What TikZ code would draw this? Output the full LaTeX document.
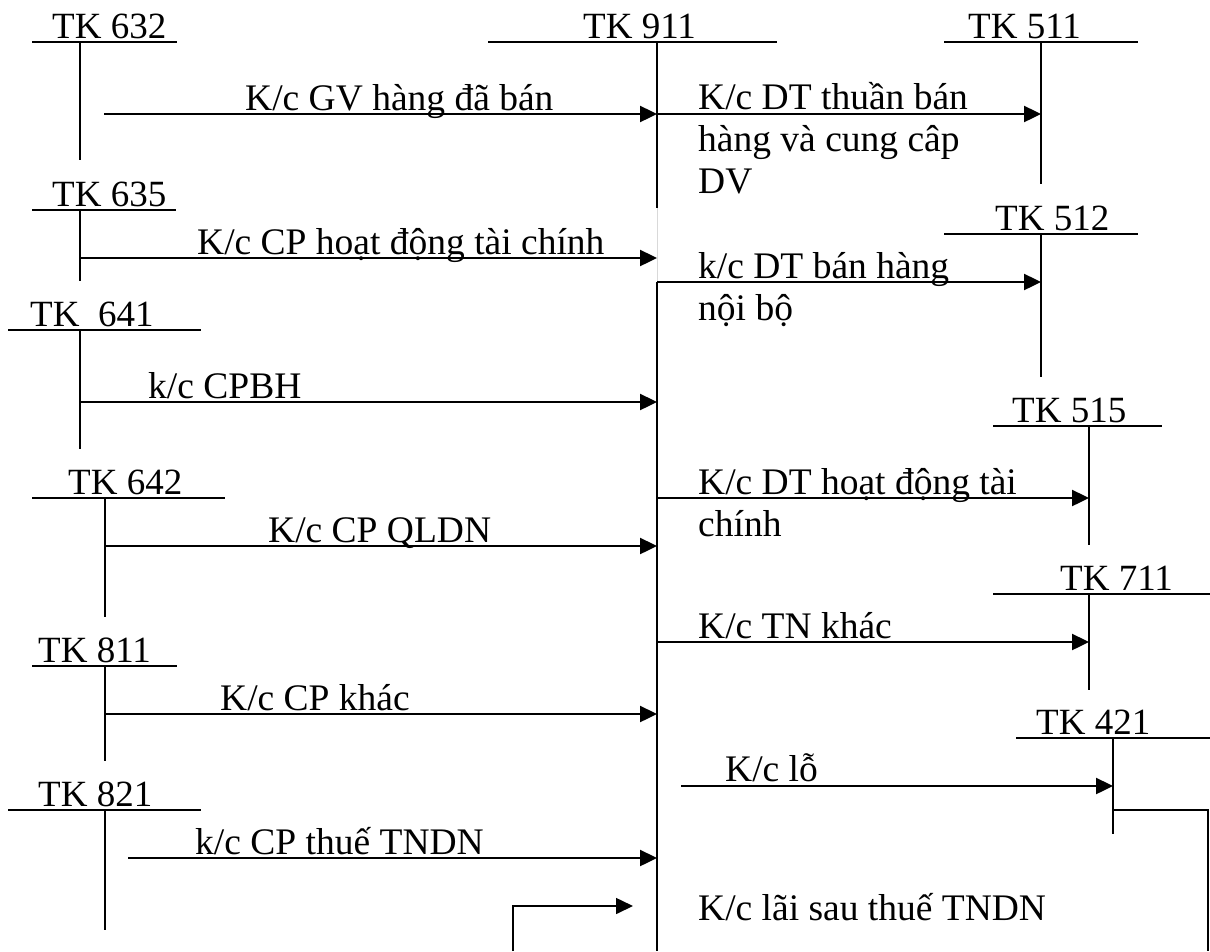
\documentclass[tikz,border=0pt]{standalone}
\usepackage{fontspec}
\setmainfont{Liberation Serif}
\usetikzlibrary{arrows.meta, positioning, calc}

\begin{document}
\begin{tikzpicture}[x=1pt, y=-1pt,
    acct/.style={anchor=base west, inner sep=0pt, font=\fontsize{37}{42}\selectfont},
    lbl/.style={anchor=base west, inner sep=0pt, align=left, font=\fontsize{37.5}{42}\selectfont},
    tline/.style={line width=1.6pt},
    flow/.style={-{Triangle[length=17pt, width=16pt]}, line width=2.4pt},
    back/.style={-{Triangle[length=17pt, width=16pt]}, line width=1.6pt}
]
\useasboundingbox (0,0) rectangle (1210,951);

% TK 911 (centre)
\node[acct] (tk911) at (583,38) {TK 911};
\draw[tline] (488,42) -- (777,42);
\draw[tline] (657,42) coordinate (s911) -- (657,208);
\draw[line width=0.6pt, black!15] (657,208) -- (657,282);
\draw[tline] (657,282) -- (657,951);

% left side accounts
\node[acct] (tk632) at (52,38) {TK 632};
\draw[tline] (32,42) -- (177,42);
\draw[tline] (80,42) -- (80,160);
\node[acct] (tk635) at (52,206) {TK 635};
\draw[tline] (32,210) -- (176,210);
\draw[tline] (80,210) -- (80,281);
\node[acct] (tk641) at (30,326) {TK\ \ 641};
\draw[tline] (8,330) -- (201,330);
\draw[tline] (80,330) -- (80,449);
\node[acct] (tk642) at (68,494) {TK 642};
\draw[tline] (32,498) -- (225,498);
\draw[tline] (105,498) -- (105,617);
\node[acct] (tk811) at (38,662) {TK 811};
\draw[tline] (32,666) -- (177,666);
\draw[tline] (105,666) -- (105,761);
\node[acct] (tk821) at (38,806) {TK 821};
\draw[tline] (8,810) -- (201,810);
\draw[tline] (105,810) -- (105,930);

% right side accounts
\node[acct] (tk511) at (968,38) {TK 511};
\draw[tline] (944,42) -- (1138,42);
\draw[tline] (1041,42) coordinate (s511) -- (1041,184);
\node[acct] (tk512) at (995,230) {TK 512};
\draw[tline] (944,234) -- (1138,234);
\draw[tline] (1041,234) coordinate (s512) -- (1041,377);
\node[acct] (tk515) at (1012,422) {TK 515};
\draw[tline] (993,426) -- (1162,426);
\draw[tline] (1089,426) coordinate (s515) -- (1089,545);
\node[acct] (tk711) at (1060,590) {TK 711};
\draw[tline] (993,594) -- (1210,594);
\draw[tline] (1089,594) coordinate (s711) -- (1089,690);
\node[acct] (tk421) at (1036,734) {TK 421};
\draw[tline] (1016,738) -- (1210,738);
\draw[tline] (1113,738) coordinate (s421) -- (1113,834);

% start points of the transfers
\coordinate (o632) at (104,114);
\coordinate (o635) at (80,258);
\coordinate (o641) at (80,402);
\coordinate (o642) at (105,546);
\coordinate (o811) at (105,714);
\coordinate (o821) at (128,858);
\coordinate (o511) at (657,114);
\coordinate (o512) at (657,282);
\coordinate (o515) at (657,498);
\coordinate (o711) at (657,642);
\coordinate (oLo) at (681,786);
\coordinate (o421) at (1113,810);
\coordinate (turn1) at (1208,810);
\coordinate (foot1) at (1208,951);
\coordinate (foot2) at (513,951);
\coordinate (turn2) at (513,906);
\coordinate (iLai) at (633,906);

% costs into 911
\draw[flow] (o632) -- (o632 -| s911);
\draw[flow] (o635) -- (o635 -| s911);
\draw[flow] (o641) -- (o641 -| s911);
\draw[flow] (o642) -- (o642 -| s911);
\draw[flow] (o811) -- (o811 -| s911);
\draw[flow] (o821) -- (o821 -| s911);
% revenues into 911
\draw[flow] (o511) -- (o511 -| s511);
\draw[flow] (o512) -- (o512 -| s512);
\draw[flow] (o515) -- (o515 -| s515);
\draw[flow] (o711) -- (o711 -| s711);
\draw[flow] (oLo) -- (oLo -| s421);
\draw[tline] (o421) -- (turn1) -- (foot1);
\draw[back] (foot2) -- (turn2) -- (iLai);

% labels (multi-line ones sit on the baseline of their last line)
\node[lbl] (l632) at (245,110) {K/c GV hàng đã bán};
\node[lbl] (l635) at (197,254) {K/c CP hoạt động tài chính};
\node[lbl] (l641) at (148,398) {k/c CPBH};
\node[lbl] (l642) at (268,542) {K/c CP QLDN};
\node[lbl] (l811) at (220,710) {K/c CP khác};
\node[lbl] (l821) at (195,854) {k/c CP thuế TNDN};
\node[lbl] (l511) at (698,193) {K/c DT thuần bán\\hàng và cung câp\\DV};
\node[lbl] (l512) at (698,320) {k/c DT bán hàng\\nội bộ};
\node[lbl] (l515) at (698,536) {K/c DT hoạt động tài\\chính};
\node[lbl] (l711) at (698,638) {K/c TN khác};
\node[lbl] (lLo) at (725,781) {K/c lỗ};
\node[lbl] (lLai) at (698,920) {K/c lãi sau thuế TNDN};
\end{tikzpicture}
\end{document}
